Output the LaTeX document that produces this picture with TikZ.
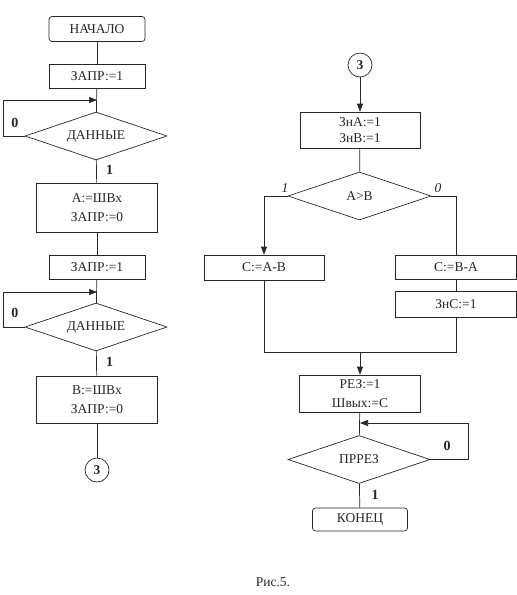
\documentclass[tikz,border=0pt]{standalone}
\usepackage{fontspec}
\setmainfont{Liberation Serif}
\usetikzlibrary{positioning, arrows.meta, shapes.geometric, calc}

\begin{document}
\begin{tikzpicture}[
    x=1pt, y=-1pt,
    line width=0.7pt, draw=black!85,
    every node/.style={font=\fontsize{13.5}{16}\selectfont, text=black!85},
    term/.style={rectangle, draw, rounded corners=3pt, minimum width=96pt, minimum height=25pt, inner sep=1pt},
    proc/.style={rectangle, draw, minimum width=121pt, align=center, inner sep=1pt},
    cond/.style={diamond, draw, aspect=3, inner sep=0pt, minimum width=142pt, minimum height=48pt},
    conn/.style={circle, draw, minimum size=24pt, inner sep=0pt, font=\fontsize{13.5}{16}\selectfont\bfseries},
    arr/.style={-{Triangle[length=8pt, width=6pt]}},
    lbl/.style={font=\fontsize{14}{16}\selectfont\bfseries},
    ilbl/.style={font=\fontsize{13.5}{16}\selectfont\itshape},
]
\useasboundingbox (0,0) rectangle (517,595);

% left column
\node[term] (start) at (97,29) {НАЧАЛО};
\node[proc, minimum width=96pt, minimum height=24pt] (zapr1) at (97,76) {ЗАПР:=1};
\node[cond] (dan1) at (96,136) {ДАННЫЕ};
\node[proc, minimum height=49pt] (inA) at (97,207.5) {А:=ШВх\\[3pt]ЗАПР:=0};
\node[proc, minimum width=96pt, minimum height=24pt] (zapr2) at (97,267) {ЗАПР:=1};
\node[cond] (dan2) at (96,327) {ДАННЫЕ};
\node[proc, minimum height=47pt] (inB) at (97,399.5) {В:=ШВх\\[3pt]ЗАПР:=0};
\node[conn] (c3a) at (97,470) {3};
\coordinate (in1) at (97,100);
\coordinate (lp1) at (3,100);
\coordinate (in2) at (97,292);
\coordinate (lp2) at (3,292);

\draw (start) -- (zapr1);
\draw (zapr1) -- (dan1);
\draw (dan1) -- node[lbl, pos=0.45, right=6pt] {1} (inA);
\draw (inA) -- (zapr2);
\draw (zapr2) -- (dan2);
\draw (dan2) -- node[lbl, pos=0.45, right=6pt] {1} (inB);
\draw (inB) -- (c3a);
\draw[arr] (dan1.west) -| (lp1) -- (in1);
\draw[arr] (dan2.west) -| (lp2) -- (in2);
\node[lbl] (z1) at (15,123) {0};
\node[lbl] (z2) at (15,313) {0};

% right column
\node[conn] (c3b) at (360,65) {3};
\node[proc, minimum width=120pt, minimum height=36pt] (zn) at (360,130) {ЗнА:=1\\ЗнВ:=1};
\node[cond, minimum width=143pt] (ab) at (359.5,196) {А>В};
\node[proc, minimum width=120pt, minimum height=25pt] (cab) at (264,267.5) {С:=А-В};
\node[proc, minimum height=24pt] (cba) at (456,267) {С:=В-А};
\node[proc, minimum height=26pt] (znc) at (456,304) {ЗнС:=1};
\coordinate (mrg) at (360,352);
\node[proc, minimum width=121pt, minimum height=37pt] (rez) at (360,393.5) {РЕЗ:=1\\[3pt]Швых:=С};
\node[cond] (prez) at (359,459.5) {ПРРЕЗ};
\node[term, minimum width=95pt, minimum height=23pt] (stop) at (360,519.5) {КОНЕЦ};
\coordinate (in3) at (360,423);
\coordinate (lp3) at (468,423);

\draw[arr] (c3b) -- (zn);
\draw (zn) -- (ab);
\draw[arr] (ab.west) -| (cab.north);
\draw (ab.east) -| (cba.north);
\draw (cba) -- (znc);
\draw (cab.south) |- (mrg);
\draw (znc.south) |- (mrg);
\draw[arr] (mrg) -- (rez);
\draw (rez) -- (prez);
\draw[arr] (prez.east) -| (lp3) -- (in3);
\draw (prez) -- (stop);
\node[ilbl] (one) at (285,188) {1};
\node[ilbl] (zero) at (438,188) {0};
\node[lbl] (z3) at (447,446) {0};
\node[lbl] (o3) at (375,495) {1};

% caption
\node (cap) at (273,582) {Рис.5.};
\end{tikzpicture}
\end{document}
